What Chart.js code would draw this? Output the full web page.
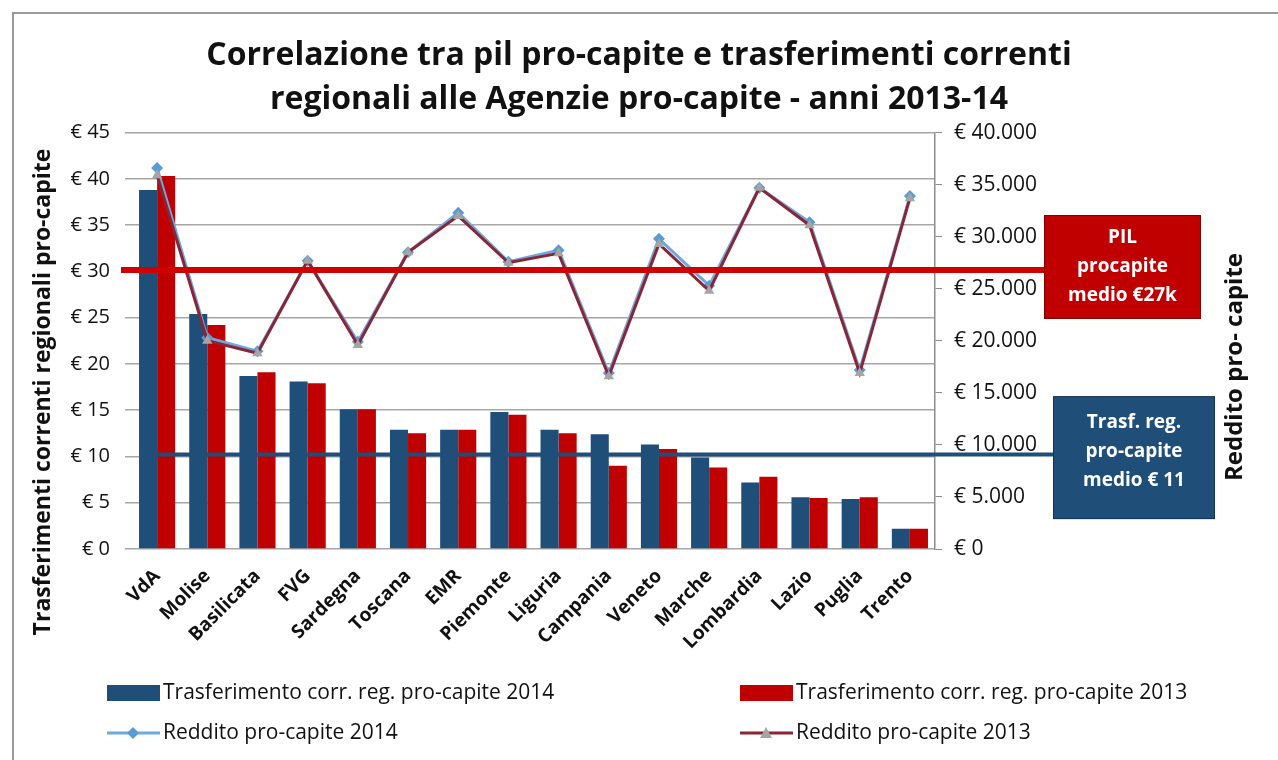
<!DOCTYPE html>
<html>
<head>
<meta charset="utf-8">
<script src="https://cdn.jsdelivr.net/npm/chart.js@4/dist/chart.umd.min.js"></script>
<style>
  html, body { margin: 0; padding: 0; background: #fff; }
  #wrap { width: 1278px; height: 760px; }
</style>
</head>
<body>
<div id="wrap"><canvas id="grafico"></canvas></div>
<script>
// Dati
const regioni = ['VdA', 'Molise', 'Basilicata', 'FVG', 'Sardegna', 'Toscana', 'EMR', 'Piemonte',
  'Liguria', 'Campania', 'Veneto', 'Marche', 'Lombardia', 'Lazio', 'Puglia', 'Trento'];

const trasf2014 = [38.8, 25.4, 18.7, 18.1, 15.1, 12.9, 12.9, 14.8, 12.9, 12.4, 11.3, 9.9, 7.2, 5.6, 5.4, 2.2];
const trasf2013 = [40.3, 24.2, 19.1, 17.9, 15.1, 12.5, 12.9, 14.5, 12.5, 9.0, 10.8, 8.8, 7.8, 5.5, 5.6, 2.2];

const reddito2014 = [36600, 20300, 19000, 27700, 19900, 28500, 32300, 27600, 28700, 16900, 29800, 25300, 34700, 31400, 17200, 33900];
const reddito2013 = [35900, 20000, 18800, 27700, 19600, 28500, 32000, 27500, 28400, 16600, 29300, 24800, 34700, 31100, 16900, 33700];

// Tick e medie
const tickSinistra = { min: 0, max: 45, passo: 5 };
const tickDestra = { min: 0, max: 40000, passo: 5000 };
const pilMedio = 26800;   // asse destro
const trasfMedio = 10.2;  // asse sinistro

const titolo = ['Correlazione tra pil pro-capite e trasferimenti correnti', 'regionali alle Agenzie pro-capite - anni 2013-14'];
const titoloSinistra = 'Trasferimenti correnti regionali pro-capite';
const titoloDestra = 'Reddito pro- capite';
const testoPil = ['PIL', 'procapite', 'medio €27k'];
const testoTrasf = ['Trasf. reg.', 'pro-capite', 'medio € 11'];

const FONT = '"Open Sans"';

function formatoEuro(v) {
  return '€ ' + String(v).replace(/\B(?=(\d{3})+(?!\d))/g, '.');
}

// Disegna bordo, titoli degli assi, linee medie, riquadri e legenda
const extra = {
  id: 'extra',
  beforeDraw(chart) {
    const ctx = chart.ctx;
    ctx.save();
    ctx.strokeStyle = '#9a9a9a';
    ctx.lineWidth = 2;
    ctx.strokeRect(13, 13, 1400, 900);
    ctx.restore();
  },
  afterDatasetsDraw(chart) {
    const ctx = chart.ctx;
    const y = chart.scales.y;
    const y1 = chart.scales.y1;
    const x = chart.scales.x;
    const area = chart.chartArea;

    // linea PIL medio
    const yPil = y1.getPixelForValue(pilMedio);
    const boxPil = { x: 1044, w: 157, h: 104 };
    ctx.save();
    ctx.strokeStyle = '#D00000';
    ctx.lineWidth = 6;
    ctx.beginPath();
    ctx.moveTo(area.left - 11, yPil);
    ctx.lineTo(boxPil.x, yPil);
    ctx.stroke();

    // linea trasferimento medio
    const yTr = y.getPixelForValue(trasfMedio);
    const boxTr = { x: 1053, w: 162, h: 123 };
    ctx.strokeStyle = '#1F4E79';
    ctx.lineWidth = 4;
    ctx.beginPath();
    ctx.moveTo(x.getPixelForValue(0), yTr);
    ctx.lineTo(boxTr.x, yTr);
    ctx.stroke();

    // riquadri
    function riquadro(b, yc, yt, colore, righe) {
      const top = yc - b.h / 2;
      ctx.fillStyle = colore;
      ctx.fillRect(b.x, top, b.w, b.h);
      ctx.strokeStyle = 'rgba(0,0,0,0.35)';
      ctx.lineWidth = 1;
      ctx.strokeRect(b.x + 0.5, top + 0.5, b.w - 1, b.h - 1);
      ctx.fillStyle = '#fff';
      ctx.font = 'bold 19px ' + FONT;
      ctx.textAlign = 'center';
      ctx.textBaseline = 'middle';
      righe.forEach((r, i) => {
        ctx.fillText(r, b.x + b.w / 2, yt + (i - (righe.length - 1) / 2) * 29);
      });
    }
    riquadro(boxPil, yPil - 3, yPil - 3, '#C00000', testoPil);
    riquadro(boxTr, yTr + 3, yTr - 3, '#1F4E79', testoTrasf);
    ctx.restore();
  },
  afterDraw(chart) {
    const ctx = chart.ctx;
    ctx.save();
    // titoli assi
    ctx.fillStyle = '#111';
    ctx.font = 'bold 23px ' + FONT;
    ctx.textAlign = 'center';
    ctx.textBaseline = 'middle';
    ctx.translate(43, 392);
    ctx.rotate(-Math.PI / 2);
    ctx.fillText(titoloSinistra, 0, 0);
    ctx.restore();

    ctx.save();
    ctx.fillStyle = '#111';
    ctx.font = 'bold 24px ' + FONT;
    ctx.textAlign = 'center';
    ctx.textBaseline = 'middle';
    ctx.translate(1235, 367);
    ctx.rotate(-Math.PI / 2);
    ctx.fillText(titoloDestra, 0, 0);
    ctx.restore();

    // legenda su due colonne
    ctx.save();
    const posizioni = [[107, 693], [740, 693], [107, 733], [740, 733]];
    chart.data.datasets.forEach((ds, i) => {
      const [lx, ly] = posizioni[i];
      if (ds.type === 'bar') {
        ctx.fillStyle = ds.backgroundColor;
        ctx.fillRect(lx, ly - 8, 53, 16);
      } else {
        ctx.strokeStyle = ds.borderColor;
        ctx.lineWidth = 3;
        ctx.beginPath();
        ctx.moveTo(lx, ly);
        ctx.lineTo(lx + 53, ly);
        ctx.stroke();
        ctx.fillStyle = ds.pointBackgroundColor;
        ctx.beginPath();
        if (ds.pointStyle === 'triangle') {
          ctx.moveTo(lx + 26, ly - 6);
          ctx.lineTo(lx + 32, ly + 5);
          ctx.lineTo(lx + 20, ly + 5);
        } else {
          ctx.moveTo(lx + 26, ly - 6);
          ctx.lineTo(lx + 32, ly);
          ctx.lineTo(lx + 26, ly + 6);
          ctx.lineTo(lx + 20, ly);
        }
        ctx.closePath();
        ctx.fill();
      }
      ctx.fillStyle = '#111';
      ctx.font = '21px ' + FONT;
      ctx.textAlign = 'left';
      ctx.textBaseline = 'middle';
      ctx.fillText(ds.label, lx + 56, ly);
    });
    ctx.restore();
  }
};

const ctx = document.getElementById('grafico').getContext('2d');
const grafico = new Chart(ctx, {
  data: {
    labels: regioni,
    datasets: [
      {
        type: 'bar',
        label: 'Trasferimento corr. reg. pro-capite 2014',
        data: trasf2014,
        backgroundColor: '#1F4E79',
        yAxisID: 'y',
        order: 3,
        categoryPercentage: 0.72,
        barPercentage: 1
      },
      {
        type: 'bar',
        label: 'Trasferimento corr. reg. pro-capite 2013',
        data: trasf2013,
        backgroundColor: '#C00000',
        yAxisID: 'y',
        order: 4,
        categoryPercentage: 0.72,
        barPercentage: 1
      },
      {
        type: 'line',
        label: 'Reddito pro-capite 2014',
        data: reddito2014,
        borderColor: '#6FA8DC',
        borderWidth: 3,
        pointStyle: 'rectRot',
        pointRadius: 6,
        pointBackgroundColor: '#5B9BD5',
        pointBorderWidth: 0,
        yAxisID: 'y1',
        order: 2,
        tension: 0
      },
      {
        type: 'line',
        label: 'Reddito pro-capite 2013',
        data: reddito2013,
        borderColor: '#8A2536',
        borderWidth: 3,
        pointStyle: 'triangle',
        pointRadius: 6,
        pointBackgroundColor: '#A5A5A5',
        pointBorderWidth: 0,
        yAxisID: 'y1',
        order: 1,
        tension: 0
      }
    ]
  },
  options: {
    responsive: true,
    maintainAspectRatio: false,
    animation: false,
    layout: { padding: { top: 0, right: 0, bottom: 0, left: 0 } },
    plugins: {
      legend: { display: false },
      tooltip: { enabled: false },
      title: {
        display: true,
        text: titolo,
        color: '#111',
        font: { family: FONT, size: 32, weight: 'bold', lineHeight: 1.4 },
        padding: { top: 33, bottom: 10 }
      }
    },
    scales: {
      x: {
        grid: { display: false },
        border: { display: false },
        ticks: {
          color: '#111',
          font: { family: FONT, size: 19, weight: 'bold' },
          minRotation: 45,
          maxRotation: 45,
          padding: 8
        },
        afterFit(scale) { scale.height = 211; }
      },
      y: {
        position: 'left',
        min: tickSinistra.min,
        max: tickSinistra.max,
        border: { display: false },
        grid: { color: '#A6A6A6', lineWidth: 1.5, tickLength: 7 },
        ticks: {
          stepSize: tickSinistra.passo,
          color: '#111',
          font: { family: FONT, size: 20 },
          padding: 15,
          callback: v => '€ ' + v
        },
        afterFit(scale) { scale.width = 132; }
      },
      y1: {
        position: 'right',
        min: tickDestra.min,
        max: tickDestra.max,
        border: { display: true, color: '#8c8c8c', width: 1.5 },
        grid: { drawOnChartArea: false, color: '#8c8c8c', tickLength: 7 },
        ticks: {
          stepSize: tickDestra.passo,
          color: '#111',
          font: { family: FONT, size: 21 },
          padding: 12,
          callback: v => formatoEuro(v)
        },
        afterFit(scale) { scale.width = 343; }
      }
    }
  },
  plugins: [extra]
});
</script>
</body>
</html>
